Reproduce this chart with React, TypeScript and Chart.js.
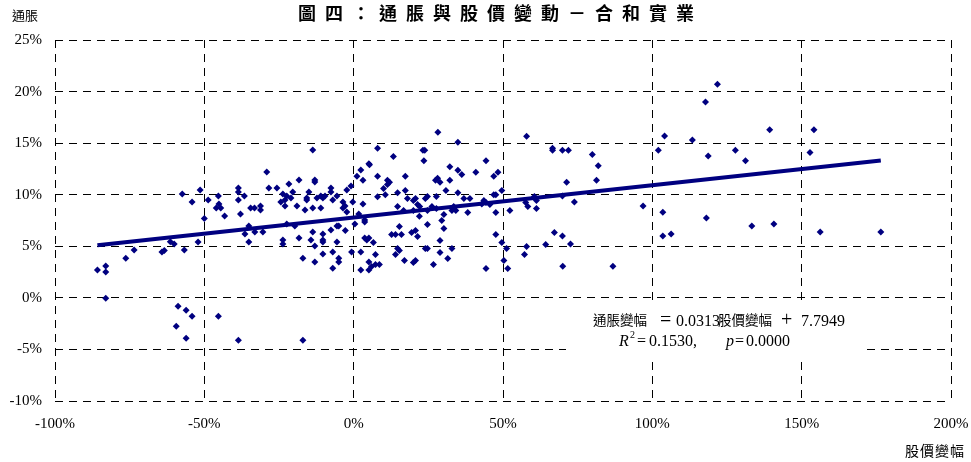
import { useEffect, useRef } from "react";
import { Chart, registerables } from "chart.js";

Chart.register(...registerables);

// 股價變幅 (%)
const stockChange = [
  -85.8, -83.0, -83.0, -83.0, -76.3, -73.5, -64.2, -63.4, -61.4, -60.1, -56.7, -57.4, -54.1, -52.1, -51.4, -50.0,
  -48.7, -45.3, -45.1, -46.0, -44.5, -43.2, -38.6, -38.6, -36.6, -38.6, -37.9, -34.5, -33.2, -31.2, -31.2, -29.1,
  -28.4, -25.7, -21.7, -18.3, -13.0, -13.0, -23.7, -22.4, -23.0, -21.0, -20.4, -24.4, -23.0, -19.0, -15.7, -15.7,
  -15.0, -16.3, -13.7, -12.3, -11.0, -10.3, -9.6, -11.0, -7.6, -7.6, -7.0, -5.6, -3.6, -2.9, -3.6, -2.3,
  -0.3, -2.3, -0.9, 1.1, 2.4, 3.1, 5.1, 3.1, 0.4, 1.7, 3.7, 3.7, 3.7, 4.4, 5.1, 2.4,
  2.4, 5.1, 5.1, -0.7, -23.7, -23.7, -18.3, -17.0, -14.3, -13.7, -13.0, -13.0, -10.3, -10.3, -10.3, -10.3,
  -7.6, -7.0, -7.0, -5.6, -5.0, -5.6, -5.0, -5.0, -36.4, -35.1, -35.1, -33.1, -30.4, -22.4, -19.7, -58.8,
  -56.1, -54.1, -59.4, -56.1, -45.3, -38.6, -17.0, -13.7, -2.8,
  8.0, 13.3, 23.2, 23.8, 23.5, 28.2, 5.3, 8.0, 11.3, 12.0, 11.3, 17.3, 10.0, 14.7, 17.3, 8.0,
  10.6, 14.7, 18.0, 20.7, 20.0, 21.4, 22.1, 24.0, 24.7, 27.7, 16.7, 20.0, 24.7, 27.4, 28.1, 27.7,
  22.0, 24.7, 15.3, 12.7, 14.0, 16.0, 19.4, 20.7, 21.4, 6.6, 7.3, 14.7, 15.3, 14.0, 24.0, 24.7,
  17.0, 20.7, 20.0, 26.7, 6.0, 7.3, 8.6,
  34.9, 57.9, 66.6, 66.6, 44.3, 32.2, 34.9, 36.2, 40.9, 28.9, 32.2, 46.9, 48.3, 30.9, 34.9, 36.9,
  38.9, 46.9, 47.6, 49.6, 43.6, 44.3, 45.6, 42.9, 26.2, 33.5, 32.9, 34.2, 30.2, 38.2, 47.6, 52.3,
  57.6, 58.3, 60.5, 61.2, 61.2, 29.5, 30.2, 47.6, 28.9, 49.6, 51.2, 32.9, 28.9, 31.5, 57.9, 57.2,
  64.3, 67.2, 50.3, 51.6, 44.3,
  121.8, 117.8, 69.9, 71.9, 79.9, 81.9, 81.3, 71.3, 69.9, 73.9, 102.0, 104.1, 113.4, 118.7, 127.8, 131.2,
  139.3, 154.1, 152.8, 96.9, 103.5, 103.5, 106.3, 118.1, 133.3, 140.7, 156.2, 176.5, 69.9, 72.6, 70.0, 86.8,
];

// 通脹變幅 (%)
const inflation = [
  2.69, 3.08, 2.5, -0.03, 3.85, 4.63, 4.44, 4.59, 5.44, 5.21, 4.63, 10.07, 9.29, 5.41, 10.46, 7.7,
  9.49, 9.87, 9.1, 8.71, 8.71, 7.93, 10.65, 10.26, 9.87, 9.49, 8.13, 8.71, 8.71, 8.9, 8.51, 12.2,
  10.65, 10.65, 11.04, 11.43, 11.43, 11.23, 10.07, 9.87, 9.49, 9.68, 10.26, 9.29, 8.9, 8.9, 9.68, 9.49,
  10.26, 8.51, 8.71, 9.68, 9.87, 9.68, 9.87, 8.71, 10.65, 10.26, 9.49, 9.87, 9.29, 8.9, 8.71, 8.32,
  9.29, 10.46, 10.84, 11.8, 12.4, 11.4, 13.0, 9.1, 7.16, 8.13, 7.54, 7.35, 5.8, 5.6, 5.8, 4.44,
  2.69, 3.47, 2.69, 4.44, 5.6, 5.21, 5.8, 3.85, 5.6, 6.38, 5.02, 3.47, 6.18, 5.6, 5.41, 4.24,
  6.57, 4.44, 2.88, 6.96, 6.96, 5.41, 3.85, 3.47, 6.18, 6.96, 5.41, 6.38, 6.38, 7.16, 6.96, -0.81,
  -1.19, -1.78, -2.75, -3.91, -1.78, -4.1, -4.1, 14.34, 6.53,
  14.5, 13.7, 14.3, 14.3, 13.3, 16.05, 12.9, 11.78, 11.4, 11.2, 11.0, 11.78, 10.6, 10.2, 10.4, 9.8,
  10.0, 8.86, 9.64, 9.64, 9.45, 9.06, 8.86, 9.64, 9.83, 9.83, 8.48, 8.48, 8.48, 11.4, 11.6, 8.67,
  7.9, 7.12, 6.92, 6.15, 6.15, 6.15, 6.34, 6.53, 5.95, 5.37, 4.2, 4.79, 4.6, 4.2, 4.79, 4.79,
  3.62, 3.62, 3.43, 3.23, 3.04, 3.23, 3.23,
  15.08, 15.66, 14.5, 14.3, 13.3, 12.7, 12.36, 11.97, 12.17, 11.2, 11.4, 11.78, 12.17, 10.4, 10.2, 9.64,
  9.64, 10.0, 10.0, 10.4, 9.45, 9.25, 9.06, 9.1, 8.86, 8.86, 8.48, 8.48, 8.09, 8.28, 8.28, 8.48,
  9.25, 8.86, 9.83, 9.45, 8.67, 7.5, 6.73, 6.15, 5.56, 5.37, 4.79, 4.79, 4.4, 3.82, 4.98, 4.2,
  5.17, 6.34, 3.62, 2.84, 2.84,
  20.7, 19.0, 14.3, 14.3, 13.9, 12.8, 11.4, 11.2, 9.87, 9.29, 14.3, 15.7, 15.3, 13.75, 14.3, 13.3,
  16.3, 16.3, 14.1, 8.9, 8.3, 6.0, 6.2, 7.74, 6.96, 7.16, 6.38, 6.38, 5.99, 5.21, 3.06, 3.06,
];

const xTicks = [-100, -50, 0, 50, 100, 150, 200];
const yTicks = [-10, -5, 0, 5, 10, 15, 20, 25];

const slope = 0.0313;
const intercept = 7.7949;
const rSquared = "0.1530";
const pValue = "0.0000";

const titleText = "圖四：通脹與股價變動－合和實業";
const yAxisTitle = "通脹";
const xAxisTitle = "股價變幅";
const eqLeft = "通脹變幅";
const eqMid = "股價變幅";

const NAVY = "#000080";
const SERIF = "'Liberation Serif', 'Times New Roman', serif";
const CJK = "'Noto Sans CJK TC', 'Noto Sans CJK SC', sans-serif";

export default function App() {
  const ref = useRef<HTMLCanvasElement | null>(null);

  useEffect(() => {
    document.body.style.margin = "0";
    const canvas = ref.current;
    if (!canvas) return;

    const points = stockChange.map((x, i) => ({ x, y: inflation[i] }));
    const xMin = Math.min(...stockChange);
    const xMax = Math.max(...stockChange);
    const trend = [
      { x: xMin, y: slope * xMin + intercept },
      { x: xMax, y: slope * xMax + intercept },
    ];

    const textPlugin = {
      id: "texts",
      beforeDatasetsDraw(chart: any) {
        const ctx = chart.ctx as CanvasRenderingContext2D;
        ctx.save();
        ctx.fillStyle = "#ffffff";
        ctx.fillRect(566, 305, 300, 52);
        ctx.restore();
      },
      afterDraw(chart: any) {
        const ctx = chart.ctx as CanvasRenderingContext2D;
        ctx.save();
        ctx.fillStyle = "#000";
        ctx.textBaseline = "middle";
        // title
        ctx.font = `bold 18px ${CJK}`;
        ctx.textAlign = "center";
        const chars = Array.from(titleText);
        chars.forEach((c, i) => {
          ctx.fillText(c, 307 + i * 27.0, 13);
        });
        // y axis title
        ctx.font = `13px ${CJK}`;
        ctx.textAlign = "left";
        ctx.fillText(yAxisTitle, 12, 15);
        // x axis title
        ctx.font = `14px ${CJK}`;
        ctx.textAlign = "left";
        (ctx as any).letterSpacing = "1px";
        ctx.fillText(xAxisTitle, 905, 451);
        (ctx as any).letterSpacing = "0px";

        // regression annotation
        ctx.textBaseline = "alphabetic";
        ctx.textAlign = "left";
        const b1 = 326;
        ctx.font = `13.5px ${CJK}`;
        ctx.fillText(eqLeft, 593, b1 - 1);
        ctx.font = `20px ${SERIF}`;
        ctx.fillText("=", 660, b1);
        ctx.font = `16px ${SERIF}`;
        ctx.fillText(slope.toFixed(4), 676, b1);
        ctx.font = `13.5px ${CJK}`;
        ctx.fillText(eqMid, 718, b1 - 1);
        ctx.font = `20px ${SERIF}`;
        ctx.fillText("+", 781, b1);
        ctx.font = `16px ${SERIF}`;
        ctx.fillText(intercept.toFixed(4), 801, b1);

        const b2 = 346;
        ctx.font = `italic 16px ${SERIF}`;
        ctx.fillText("R", 619, b2);
        ctx.font = `10px ${SERIF}`;
        ctx.fillText("2", 630, b2 - 8);
        ctx.font = `16px ${SERIF}`;
        ctx.fillText("=", 637, b2);
        ctx.fillText(rSquared + ",", 649, b2);
        ctx.font = `italic 16px ${SERIF}`;
        ctx.fillText("p", 726, b2);
        ctx.font = `16px ${SERIF}`;
        ctx.fillText("=", 735, b2);
        ctx.fillText(pValue, 746, b2);
        ctx.restore();
      },
    };

    const chart = new Chart(canvas, {
      type: "scatter",
      data: {
        datasets: [
          {
            type: "line",
            data: trend,
            borderColor: NAVY,
            borderWidth: 4,
            pointRadius: 0,
            fill: false,
            order: 0,
          } as any,
          {
            data: points,
            pointStyle: "rectRot",
            pointRadius: 3.5,
            backgroundColor: NAVY,
            borderColor: NAVY,
            borderWidth: 0,
            order: 1,
          },
        ],
      },
      options: {
        animation: false,
        responsive: false,
        maintainAspectRatio: false,
        layout: { padding: { top: 40, right: 20, left: 0, bottom: 0 } },
        plugins: {
          legend: { display: false },
          tooltip: { enabled: false },
          title: { display: false },
        },
        scales: {
          x: {
            type: "linear",
            min: xTicks[0],
            max: xTicks[xTicks.length - 1],
            afterBuildTicks: (scale: any) => {
              scale.ticks = xTicks.map((v) => ({ value: v }));
            },
            afterFit: (scale: any) => {
              scale.height = 61;
              scale.paddingLeft = 0;
              scale.paddingRight = 0;
            },
            ticks: {
              color: "#000",
              padding: 14,
              font: { family: SERIF, size: 15 },
              callback: (v: any) => `${v}%`,
              maxRotation: 0,
            },
            grid: { color: "#000", lineWidth: 1, drawTicks: false },
            border: { display: false, dash: [8, 6] },
          },
          y: {
            type: "linear",
            min: yTicks[0],
            max: yTicks[yTicks.length - 1],
            afterBuildTicks: (scale: any) => {
              scale.ticks = yTicks.map((v) => ({ value: v }));
            },
            afterFit: (scale: any) => {
              scale.width = 55;
              scale.paddingTop = 0;
              scale.paddingBottom = 0;
            },
            ticks: {
              color: "#000",
              padding: 13,
              font: { family: SERIF, size: 15 },
              callback: (v: any) => `${v}%`,
            },
            grid: { color: "#000", lineWidth: 1, drawTicks: false },
            border: { display: false, dash: [8, 6] },
          },
        },
      },
      plugins: [textPlugin],
    });

    return () => chart.destroy();
  }, []);

  return (
    <div style={{ width: 971, height: 462, background: "#fff" }}>
      <canvas ref={ref} width={971} height={462} style={{ display: "block" }} />
    </div>
  );
}
